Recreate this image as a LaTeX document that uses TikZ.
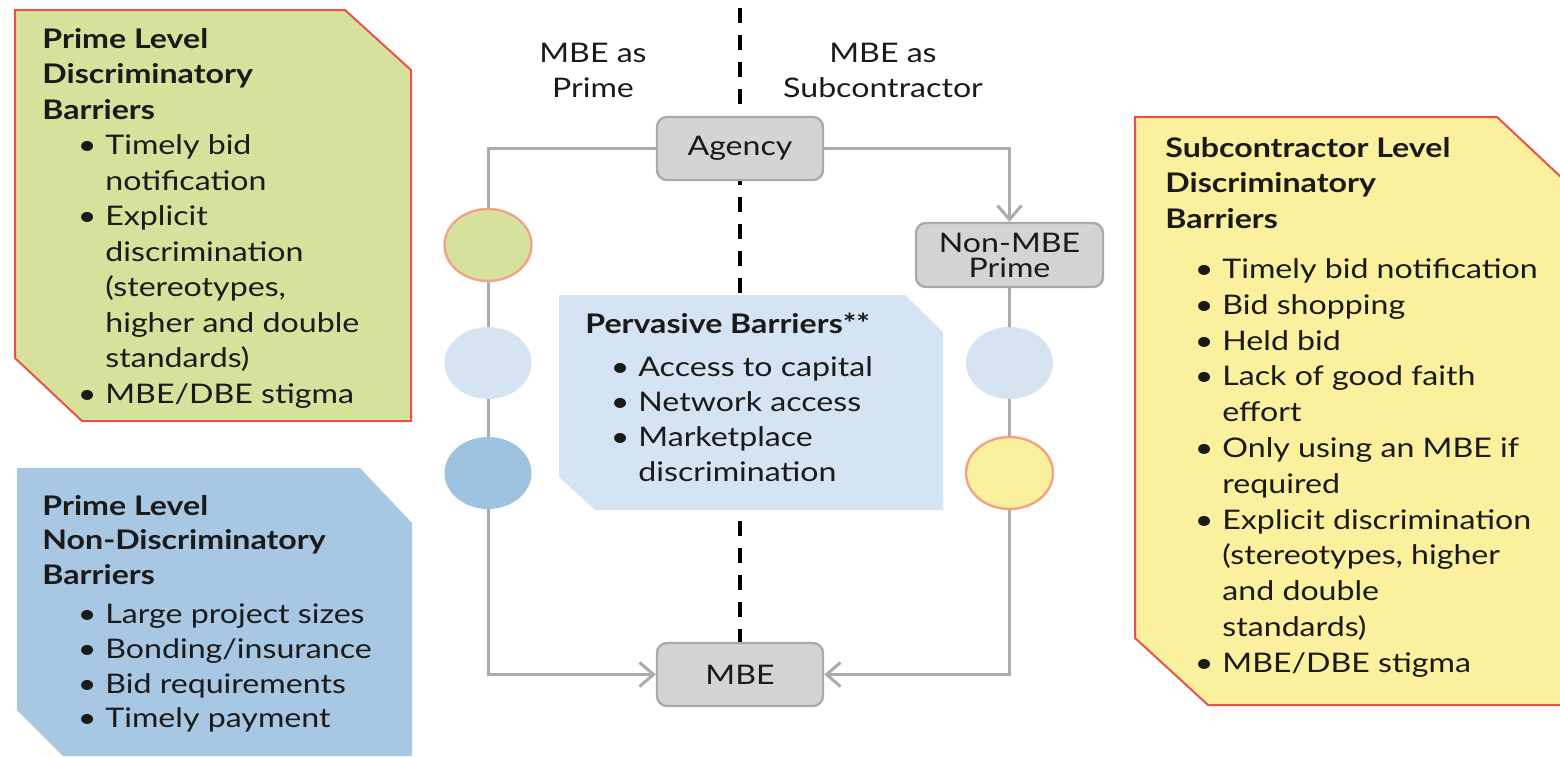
\documentclass[tikz,border=0pt]{standalone}
\usepackage{fontspec}
\setmainfont{Lato}[FakeStretch=1.19]
\usetikzlibrary{arrows.meta,shapes.geometric,backgrounds}
\definecolor{greenF}{HTML}{D6E29B}
\definecolor{redB}{HTML}{E9524B}
\definecolor{blueF}{HTML}{A7C7E3}
\definecolor{yellowF}{HTML}{FAF09D}
\definecolor{pervF}{HTML}{D4E4F2}
\definecolor{lblueF}{HTML}{D6E4F1}
\definecolor{dblueF}{HTML}{9DC3E1}
\definecolor{circB}{HTML}{F2A285}
\definecolor{grayF}{HTML}{D2D4D6}
\definecolor{grayB}{HTML}{A8ABAE}
\definecolor{connC}{HTML}{ABABAB}
\definecolor{txtC}{HTML}{1A1A1A}
\newcommand\fs[1]{\fontsize{13.5pt}{#1}\selectfont}
\newcommand\itm[2]{\hspace*{#1}\llap{\textbullet\hspace{4.5pt}}#2}
\newcommand\cnt[2]{\hspace*{#1}#2}
\begin{document}
\begin{tikzpicture}[x=0.5pt,y=-0.5pt,
  panel/.style={draw=redB,line width=1pt,line join=miter},
  txt/.style={anchor=base west,inner sep=0pt,text=txtC},
  lbl/.style={anchor=base,inner sep=0pt,text=txtC,align=center,font=\fs{17.5pt}},
  gbox/.style={draw=grayB,fill=grayF,line width=1.2pt,rounded corners=5pt,inner sep=0pt,text=txtC,font=\fs{12.5pt},align=center},
  circ/.style={ellipse,inner sep=0pt,minimum width=43.5pt,minimum height=36pt},
  conn/.style={draw=connC,line width=1.5pt},
  tip/.style={-{Straight Barb[length=7pt,width=12pt]}},
  dashline/.style={draw=black,line width=1.6pt,dash pattern=on 7.5pt off 6pt}]
\useasboundingbox (0,0) rectangle (1560,756);

% panels
\path[panel,fill=greenF] (15,10) -- (345,10) -- (411,70) -- (411,421) -- (82,421) -- (15,358) -- cycle;
\fill[blueF] (17,468) -- (360,468) -- (412,523) -- (412,756) -- (63,756) -- (17,710) -- cycle;
\path[panel,fill=yellowF] (1135,117) -- (1497,117) -- (1562,178) -- (1562,705) -- (1208,705) -- (1135,638) -- cycle;
\fill[pervF] (559,295) -- (905,295) -- (943,332) -- (943,510) -- (595,510) -- (559,477) -- cycle;

% panel texts
\node[txt] (gtxt) at (42,48) {\parbox[t]{190pt}{\fs{17.75pt}\raggedright
\textbf{Prime Level}\\
\textbf{Discriminatory}\\
\textbf{Barriers}\\
\itm{31.5pt}{Timely bid}\\
\cnt{31.5pt}{notification}\\
\itm{31.5pt}{Explicit}\\
\cnt{31.5pt}{discrimination}\\
\cnt{31.5pt}{(stereotypes,}\\
\cnt{31.5pt}{higher and double}\\
\cnt{31.5pt}{standards)}\\
\itm{31.5pt}{MBE/DBE stigma}}};

\node[txt] (btxt) at (42,515) {\parbox[t]{190pt}{\fs{17.4pt}\raggedright
\textbf{Prime Level}\\
\textbf{Non-Discriminatory}\\
\textbf{Barriers}\\[2pt]
\itm{31.5pt}{Large project sizes}\\
\itm{31.5pt}{Bonding/insurance}\\
\itm{31.5pt}{Bid requirements}\\
\itm{31.5pt}{Timely payment}}};

\node[txt] (ytxt) at (1165,157) {\parbox[t]{190pt}{\fs{17.9pt}\raggedright
\textbf{Subcontractor Level}\\
\textbf{Discriminatory}\\
\textbf{Barriers}\\[7pt]
\itm{28.5pt}{Timely bid notification}\\
\itm{28.5pt}{Bid shopping}\\
\itm{28.5pt}{Held bid}\\
\itm{28.5pt}{Lack of good faith}\\
\cnt{28.5pt}{effort}\\
\itm{28.5pt}{Only using an MBE if}\\
\cnt{28.5pt}{required}\\
\itm{28.5pt}{Explicit discrimination}\\
\cnt{28.5pt}{(stereotypes, higher}\\
\cnt{28.5pt}{and double}\\
\cnt{28.5pt}{standards)}\\
\itm{28.5pt}{MBE/DBE stigma}}};

\node[txt] (ptxt) at (585,333) {\parbox[t]{190pt}{\fs{17.5pt}\raggedright
\textbf{Pervasive Barriers**}\\[4pt]
\itm{26.5pt}{Access to capital}\\
\itm{26.5pt}{Network access}\\
\itm{26.5pt}{Marketplace}\\
\cnt{26.5pt}{discrimination}}};

% column labels
\node[lbl] (lp) at (593,97) {MBE as\\Prime};
\node[lbl] (ls) at (883,97) {MBE as\\Subcontractor};

% flow boxes
\node[gbox,minimum width=83pt,minimum height=31.5pt] (agency) at (740,148.5) {Agency};
\node[gbox,minimum width=93.5pt,minimum height=32pt] (nonmbe) at (1009.5,255) {Non-MBE\\Prime};
\node[gbox,minimum width=83pt,minimum height=31.5pt] (mbe) at (740,674.5) {MBE};

\begin{scope}[on background layer]
\coordinate (dtop) at (740,8);
\draw[dashline] (dtop) -- (mbe.north);
\end{scope}

% connectors
\coordinate (lc) at (488,674.5);
\draw[conn,tip] (agency.west) -| (lc) -- (mbe.west);
\draw[conn,tip] (agency.east) -| (nonmbe.north);
\draw[conn,tip] (nonmbe.south) |- (mbe.east);

% barrier markers
\node[circ,fill=greenF,draw=circB,line width=1.2pt] (c1) at (488,245) {};
\node[circ,fill=lblueF] (c2) at (488,363) {};
\node[circ,fill=dblueF] (c3) at (488,473) {};
\node[circ,fill=lblueF] (c4) at (1009.5,363) {};
\node[circ,fill=yellowF,draw=circB,line width=1.2pt] (c5) at (1009.5,473) {};
\end{tikzpicture}
\end{document}
